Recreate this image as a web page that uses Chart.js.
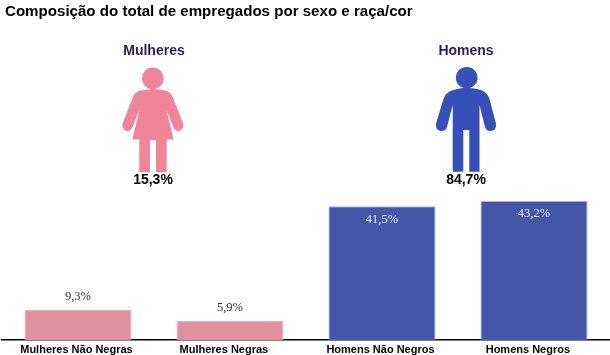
<!DOCTYPE html>
<html lang="pt-BR">
<head>
<meta charset="utf-8">
<title>Composição do total de empregados por sexo e raça/cor</title>
<script src="https://cdn.jsdelivr.net/npm/chart.js@4"></script>
<style>
    html, body { margin: 0; padding: 0; background: #fff; }
    #quadro { position: relative; width: 610px; height: 355px; overflow: hidden; font-family: "Liberation Sans", Arial, sans-serif; }
    #quadro canvas { position: absolute; left: 0; top: 0; }
    #quadro svg { position: absolute; left: 0; top: 0; }
    .texto { position: absolute; font-weight: bold; white-space: nowrap; }
    .centro { transform: translateX(-50%); text-align: center; }
    #titulo { left: 5px; top: 2px; font-size: 15.1px; line-height: 18px; color: #000; }
    .sexo { top: 42px; font-size: 14px; line-height: 17px; color: #2b1a5c; }
    .total { top: 171px; font-size: 14px; line-height: 17px; color: #000; }
</style>
</head>
<body>
<div id="quadro">
    <canvas id="grafico" width="610" height="355"></canvas>
    <svg width="610" height="355" viewBox="0 0 610 355">
        <!-- mulher -->
        <circle cx="152.800" cy="78.300" r="10.800" fill="#f0859a"/>
        <path fill="#f0859a" d="M141 90.500 Q153 87.500 165 90.500 Q170.500 91.500 172.700 97 L183 123.500 Q184.500 129.500 179 131 Q175.500 131.500 173.500 127.500 L166.500 110 L173.500 139.500 L166.700 139.500 L166.700 172 L156 172 L156 140 L150 140 L150 172 L139.300 172 L139.300 139.500 L132.300 139.500 L139.500 110 L132.500 127.500 Q130.500 131.500 127 131 Q121.500 129.500 122.500 123.500 L133 97 Q135 91.500 141 90.500 Z"/>
        <!-- homem -->
        <circle cx="466.700" cy="77.700" r="10.800" fill="#364fb9"/>
        <path fill="#364fb9" d="M455 89.500 Q467 86 479 89.500 Q487 91.500 489.500 99 L496 123.500 Q497 130 491 131 Q486.500 131.500 485 127 L479.500 105 L479.500 171.700 L469.300 171.700 L469.300 130 L463.300 130 L463.300 171.700 L452.700 171.700 L452.700 105 L447 127 Q445.500 131.500 441 131 Q435 130 436 123.500 L443.500 99 Q446 91.500 455 89.500 Z"/>
    </svg>
    <div id="titulo" class="texto">Composição do total de empregados por sexo e raça/cor</div>
    <div class="texto centro sexo" style="left:154px">Mulheres</div>
    <div class="texto centro sexo" style="left:466px">Homens</div>
    <div class="texto centro total" style="left:153px">15,3%</div>
    <div class="texto centro total" style="left:466px">84,7%</div>
</div>
<script>
const categorias = ['Mulheres Não Negras', 'Mulheres Negras', 'Homens Não Negros', 'Homens Negros'];
const valores = [9.3, 5.9, 41.5, 43.2];
const rotulos = ['9,3%', '5,9%', '41,5%', '43,2%'];
const coresBarras = ['#e0919f', '#e0919f', '#4556a8', '#4556a8'];
const coresBordas = ['#eab3bd', '#eab3bd', '#a9b2da', '#a9b2da'];
const coresRotulos = ['#333333', '#333333', '#e6e9f5', '#e6e9f5'];
// Os nomes do eixo ficam um pouco à esquerda do centro da barra no original
const recuos = [1, 4, 1, 4];

// Escreve o rótulo de cada barra: por fora nas baixas, por dentro nas altas
const rotulosBarras = {
    id: 'rotulosBarras',
    afterDatasetsDraw(chart) {
        const ctx = chart.ctx;
        const barras = chart.getDatasetMeta(0).data;
        ctx.save();
        ctx.font = '12.5px "Liberation Serif", serif';
        ctx.textAlign = 'center';
        ctx.textBaseline = 'middle';
        barras.forEach((barra, i) => {
            const desvio = valores[i] > 20 ? 13 : -13;
            ctx.fillStyle = coresRotulos[i];
            ctx.fillText(rotulos[i], barra.x, barra.y + desvio);
        });
        ctx.restore();
    }
};

new Chart(document.getElementById('grafico'), {
    type: 'bar',
    data: {
        labels: categorias,
        datasets: [{
            data: valores,
            backgroundColor: coresBarras,
            borderColor: coresBordas,
            borderWidth: { top: 1, left: 1, right: 1, bottom: 0 },
            categoryPercentage: 0.705,
            barPercentage: 1
        }]
    },
    plugins: [rotulosBarras],
    options: {
        responsive: false,
        animation: false,
        layout: { padding: { left: 2, right: 0, top: 179, bottom: 0 } },
        plugins: {
            legend: { display: false },
            title: { display: false },
            tooltip: { enabled: false }
        },
        scales: {
            y: { display: false, min: 0, max: 50 },
            x: {
                afterFit(escala) { escala.height = 15; },
                grid: { display: false, drawTicks: false },
                border: { color: '#000', width: 1.5 },
                ticks: {
                    color: '#000',
                    padding: 3,
                    maxRotation: 0,
                    autoSkip: false,
                    font: { family: '"Liberation Sans", Arial, sans-serif', size: 11, weight: 'bold' },
                    callback(valor, i) {
                        return categorias[i] + '\u00a0'.repeat(recuos[i]);
                    }
                }
            }
        }
    }
});
</script>
</body>
</html>
